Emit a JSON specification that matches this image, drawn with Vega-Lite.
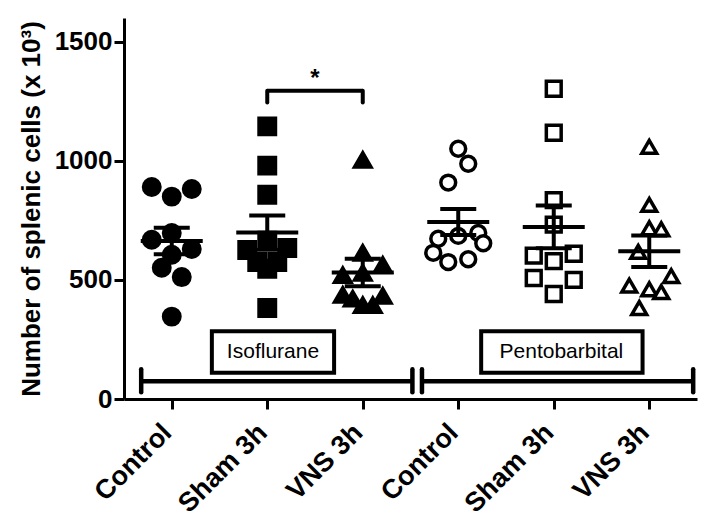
{
  "$schema": "https://vega.github.io/schema/vega-lite/v6.json",
  "width": 573,
  "height": 381,
  "autosize": {"type": "none"},
  "padding": {"left": 124, "top": 18, "right": 9, "bottom": 124},
  "background": "white",
  "config": {
    "view": {"stroke": null},
    "axis": {
      "domainColor": "black", "domainWidth": 3, "tickColor": "black", "tickWidth": 3, "tickSize": 10,
      "labelFont": "Liberation Sans", "labelFontWeight": "bold", "labelFontSize": 26, "labelColor": "black",
      "titleFont": "Liberation Sans", "titleFontWeight": "bold", "titleFontSize": 26, "titleColor": "black",
      "grid": false
    }
  },
  "datasets": {
    "cells": [
      {"group": "Control|Iso", "treatment": "Control", "anesthesia": "Isoflurane", "value": 890, "col": -2},
      {"group": "Control|Iso", "treatment": "Control", "anesthesia": "Isoflurane", "value": 850, "col": 0},
      {"group": "Control|Iso", "treatment": "Control", "anesthesia": "Isoflurane", "value": 882, "col": 2},
      {"group": "Control|Iso", "treatment": "Control", "anesthesia": "Isoflurane", "value": 669, "col": -2},
      {"group": "Control|Iso", "treatment": "Control", "anesthesia": "Isoflurane", "value": 697, "col": 0},
      {"group": "Control|Iso", "treatment": "Control", "anesthesia": "Isoflurane", "value": 630, "col": 2},
      {"group": "Control|Iso", "treatment": "Control", "anesthesia": "Isoflurane", "value": 606, "col": 0},
      {"group": "Control|Iso", "treatment": "Control", "anesthesia": "Isoflurane", "value": 551, "col": -1},
      {"group": "Control|Iso", "treatment": "Control", "anesthesia": "Isoflurane", "value": 512, "col": 1},
      {"group": "Control|Iso", "treatment": "Control", "anesthesia": "Isoflurane", "value": 346, "col": 0},
      {"group": "Sham 3h|Iso", "treatment": "Sham", "anesthesia": "Isoflurane", "value": 1145, "col": 0},
      {"group": "Sham 3h|Iso", "treatment": "Sham", "anesthesia": "Isoflurane", "value": 980, "col": 0},
      {"group": "Sham 3h|Iso", "treatment": "Sham", "anesthesia": "Isoflurane", "value": 858, "col": 0},
      {"group": "Sham 3h|Iso", "treatment": "Sham", "anesthesia": "Isoflurane", "value": 665, "col": 0},
      {"group": "Sham 3h|Iso", "treatment": "Sham", "anesthesia": "Isoflurane", "value": 626, "col": -2},
      {"group": "Sham 3h|Iso", "treatment": "Sham", "anesthesia": "Isoflurane", "value": 634, "col": 2},
      {"group": "Sham 3h|Iso", "treatment": "Sham", "anesthesia": "Isoflurane", "value": 575, "col": -1},
      {"group": "Sham 3h|Iso", "treatment": "Sham", "anesthesia": "Isoflurane", "value": 575, "col": 1},
      {"group": "Sham 3h|Iso", "treatment": "Sham", "anesthesia": "Isoflurane", "value": 547, "col": 0},
      {"group": "Sham 3h|Iso", "treatment": "Sham", "anesthesia": "Isoflurane", "value": 382, "col": 0},
      {"group": "VNS 3h|Iso", "treatment": "VNS", "anesthesia": "Isoflurane", "value": 1004, "col": 0},
      {"group": "VNS 3h|Iso", "treatment": "VNS", "anesthesia": "Isoflurane", "value": 614, "col": 0},
      {"group": "VNS 3h|Iso", "treatment": "VNS", "anesthesia": "Isoflurane", "value": 563, "col": 2},
      {"group": "VNS 3h|Iso", "treatment": "VNS", "anesthesia": "Isoflurane", "value": 530, "col": 0},
      {"group": "VNS 3h|Iso", "treatment": "VNS", "anesthesia": "Isoflurane", "value": 520, "col": -2},
      {"group": "VNS 3h|Iso", "treatment": "VNS", "anesthesia": "Isoflurane", "value": 437, "col": -2},
      {"group": "VNS 3h|Iso", "treatment": "VNS", "anesthesia": "Isoflurane", "value": 421, "col": -1},
      {"group": "VNS 3h|Iso", "treatment": "VNS", "anesthesia": "Isoflurane", "value": 433, "col": 2},
      {"group": "VNS 3h|Iso", "treatment": "VNS", "anesthesia": "Isoflurane", "value": 394, "col": 0},
      {"group": "VNS 3h|Iso", "treatment": "VNS", "anesthesia": "Isoflurane", "value": 394, "col": 1},
      {"group": "Control|Pento", "treatment": "Control", "anesthesia": "Pentobarbital", "value": 1051, "col": 0},
      {"group": "Control|Pento", "treatment": "Control", "anesthesia": "Pentobarbital", "value": 988, "col": 1},
      {"group": "Control|Pento", "treatment": "Control", "anesthesia": "Pentobarbital", "value": 909, "col": -1},
      {"group": "Control|Pento", "treatment": "Control", "anesthesia": "Pentobarbital", "value": 673, "col": -2},
      {"group": "Control|Pento", "treatment": "Control", "anesthesia": "Pentobarbital", "value": 685, "col": 0},
      {"group": "Control|Pento", "treatment": "Control", "anesthesia": "Pentobarbital", "value": 697, "col": 2},
      {"group": "Control|Pento", "treatment": "Control", "anesthesia": "Pentobarbital", "value": 654, "col": 2.5},
      {"group": "Control|Pento", "treatment": "Control", "anesthesia": "Pentobarbital", "value": 614, "col": -2.5},
      {"group": "Control|Pento", "treatment": "Control", "anesthesia": "Pentobarbital", "value": 575, "col": -1},
      {"group": "Control|Pento", "treatment": "Control", "anesthesia": "Pentobarbital", "value": 587, "col": 1},
      {"group": "Sham 3h|Pento", "treatment": "Sham", "anesthesia": "Pentobarbital", "value": 1303, "col": 0},
      {"group": "Sham 3h|Pento", "treatment": "Sham", "anesthesia": "Pentobarbital", "value": 1118, "col": 0},
      {"group": "Sham 3h|Pento", "treatment": "Sham", "anesthesia": "Pentobarbital", "value": 835, "col": 0},
      {"group": "Sham 3h|Pento", "treatment": "Sham", "anesthesia": "Pentobarbital", "value": 732, "col": 0},
      {"group": "Sham 3h|Pento", "treatment": "Sham", "anesthesia": "Pentobarbital", "value": 602, "col": -2},
      {"group": "Sham 3h|Pento", "treatment": "Sham", "anesthesia": "Pentobarbital", "value": 610, "col": 2},
      {"group": "Sham 3h|Pento", "treatment": "Sham", "anesthesia": "Pentobarbital", "value": 579, "col": 0},
      {"group": "Sham 3h|Pento", "treatment": "Sham", "anesthesia": "Pentobarbital", "value": 508, "col": -2},
      {"group": "Sham 3h|Pento", "treatment": "Sham", "anesthesia": "Pentobarbital", "value": 500, "col": 2},
      {"group": "Sham 3h|Pento", "treatment": "Sham", "anesthesia": "Pentobarbital", "value": 441, "col": 0},
      {"group": "VNS 3h|Pento", "treatment": "VNS", "anesthesia": "Pentobarbital", "value": 1059, "col": 0},
      {"group": "VNS 3h|Pento", "treatment": "VNS", "anesthesia": "Pentobarbital", "value": 815, "col": 0},
      {"group": "VNS 3h|Pento", "treatment": "VNS", "anesthesia": "Pentobarbital", "value": 717, "col": 0},
      {"group": "VNS 3h|Pento", "treatment": "VNS", "anesthesia": "Pentobarbital", "value": 713, "col": 1.2},
      {"group": "VNS 3h|Pento", "treatment": "VNS", "anesthesia": "Pentobarbital", "value": 618, "col": -1.1},
      {"group": "VNS 3h|Pento", "treatment": "VNS", "anesthesia": "Pentobarbital", "value": 516, "col": 2.2},
      {"group": "VNS 3h|Pento", "treatment": "VNS", "anesthesia": "Pentobarbital", "value": 476, "col": -2},
      {"group": "VNS 3h|Pento", "treatment": "VNS", "anesthesia": "Pentobarbital", "value": 461, "col": 0},
      {"group": "VNS 3h|Pento", "treatment": "VNS", "anesthesia": "Pentobarbital", "value": 449, "col": 1.2},
      {"group": "VNS 3h|Pento", "treatment": "VNS", "anesthesia": "Pentobarbital", "value": 382, "col": -1}
    ],
    "brackets": [
      {"x": 0.18, "x2": 3.02, "value": 75},
      {"x": 3.12, "x2": 5.96, "value": 75}
    ],
    "bracketCaps": [
      {"x": 0.18, "value": 28, "value2": 125},
      {"x": 3.02, "value": 28, "value2": 125},
      {"x": 3.12, "value": 28, "value2": 125},
      {"x": 5.96, "value": 28, "value2": 125}
    ],
    "boxes": [
      {"x": 0.92, "x2": 2.2, "xc": 1.56, "value": 110, "value2": 285, "yc": 197, "label": "Isoflurane"},
      {"x": 3.74, "x2": 5.43, "xc": 4.58, "value": 110, "value2": 285, "yc": 197, "label": "Pentobarbital"}
    ],
    "sig": [
      {"x": 1.5, "x2": 2.5, "value": 1295}
    ],
    "sigCaps": [
      {"x": 1.5, "value": 1245, "value2": 1295},
      {"x": 2.5, "value": 1245, "value2": 1295}
    ],
    "star": [
      {"x": 2.0, "value": 1345, "label": "*"}
    ]
  },
  "resolve": {"scale": {"x": "independent"}},
  "layer": [
    {
      "data": {"name": "cells"},
      "encoding": {
        "x": {
          "field": "group", "type": "nominal",
          "scale": {"type": "point", "padding": 0.5, "domain": ["Control|Iso", "Sham 3h|Iso", "VNS 3h|Iso", "Control|Pento", "Sham 3h|Pento", "VNS 3h|Pento"]},
          "axis": {"title": null, "labelAngle": -45, "labelExpr": "split(datum.value, '|')[0]", "labelPadding": 10, "labelOffset": -14, "labelFontSize": 27}
        }
      },
      "layer": [
        {
          "mark": {"type": "point", "filled": false, "stroke": "black", "strokeWidth": 3.5, "opacity": 1},
          "encoding": {
            "xOffset": {"field": "col", "type": "quantitative", "scale": {"domain": [-2.5, 2.5], "range": [-25, 25]}},
            "y": {"field": "value", "type": "quantitative", "scale": {"domain": [0, 1500]}, "axis": {"values": [0, 500, 1000, 1500], "format": "d", "titlePadding": 10, "labelPadding": 2}, "title": "Number of splenic cells (x 10³)"},
            "shape": {"field": "treatment", "type": "nominal", "scale": {"domain": ["Control", "Sham", "VNS"], "range": ["circle", "square", "triangle-up"]}, "legend": null},
            "fill": {"field": "anesthesia", "type": "nominal", "scale": {"domain": ["Isoflurane", "Pentobarbital"], "range": ["black", "white"]}, "legend": null},
            "size": {"field": "anesthesia", "type": "nominal", "scale": {"domain": ["Isoflurane", "Pentobarbital"], "range": [270, 220]}, "legend": null}
          }
        },
        {
          "mark": {"type": "errorbar", "extent": "stderr", "color": "black", "ticks": {"size": 36, "thickness": 4, "color": "black", "opacity": 1}, "rule": {"strokeWidth": 4, "opacity": 1}},
          "encoding": {
            "y": {"field": "value", "type": "quantitative", "title": "Number of splenic cells (x 10³)"}
          }
        },
        {
          "mark": {"type": "tick", "color": "black", "size": 62, "thickness": 4, "opacity": 1},
          "encoding": {
            "y": {"field": "value", "type": "quantitative", "aggregate": "mean", "title": "Number of splenic cells (x 10³)"}
          }
        }
      ]
    },
    {
      "layer": [
        {
          "data": {"name": "brackets"},
          "mark": {"type": "rule", "color": "black", "strokeWidth": 4.5},
          "encoding": {
            "x": {"field": "x", "type": "quantitative", "scale": {"domain": [0, 6]}, "axis": null},
            "x2": {"field": "x2"},
            "y": {"field": "value", "type": "quantitative", "title": "Number of splenic cells (x 10³)"}
          }
        },
        {
          "data": {"name": "bracketCaps"},
          "mark": {"type": "rule", "color": "black", "strokeWidth": 4.5, "strokeCap": "round"},
          "encoding": {
            "x": {"field": "x", "type": "quantitative", "scale": {"domain": [0, 6]}, "axis": null},
            "y": {"field": "value", "type": "quantitative", "title": "Number of splenic cells (x 10³)"},
            "y2": {"field": "value2"}
          }
        },
        {
          "data": {"name": "boxes"},
          "mark": {"type": "rect", "fill": "white", "stroke": "black", "strokeWidth": 4},
          "encoding": {
            "x": {"field": "x", "type": "quantitative", "scale": {"domain": [0, 6]}, "axis": null},
            "x2": {"field": "x2"},
            "y": {"field": "value", "type": "quantitative", "title": "Number of splenic cells (x 10³)"},
            "y2": {"field": "value2"}
          }
        },
        {
          "data": {"name": "boxes"},
          "mark": {"type": "text", "font": "Liberation Sans", "fontSize": 21, "color": "black", "align": "center", "baseline": "middle"},
          "encoding": {
            "x": {"field": "xc", "type": "quantitative", "scale": {"domain": [0, 6]}, "axis": null},
            "y": {"field": "yc", "type": "quantitative", "title": "Number of splenic cells (x 10³)"},
            "text": {"field": "label"}
          }
        },
        {
          "data": {"name": "sig"},
          "mark": {"type": "rule", "color": "black", "strokeWidth": 4},
          "encoding": {
            "x": {"field": "x", "type": "quantitative", "scale": {"domain": [0, 6]}, "axis": null},
            "x2": {"field": "x2"},
            "y": {"field": "value", "type": "quantitative", "title": "Number of splenic cells (x 10³)"}
          }
        },
        {
          "data": {"name": "sigCaps"},
          "mark": {"type": "rule", "color": "black", "strokeWidth": 4, "strokeCap": "round"},
          "encoding": {
            "x": {"field": "x", "type": "quantitative", "scale": {"domain": [0, 6]}, "axis": null},
            "y": {"field": "value", "type": "quantitative", "title": "Number of splenic cells (x 10³)"},
            "y2": {"field": "value2"}
          }
        },
        {
          "data": {"name": "star"},
          "mark": {"type": "text", "font": "Liberation Sans", "fontSize": 24, "fontWeight": "bold", "color": "black", "align": "center", "baseline": "middle"},
          "encoding": {
            "x": {"field": "x", "type": "quantitative", "scale": {"domain": [0, 6]}, "axis": null},
            "y": {"field": "value", "type": "quantitative", "title": "Number of splenic cells (x 10³)"},
            "text": {"field": "label"}
          }
        }
      ]
    }
  ]
}
